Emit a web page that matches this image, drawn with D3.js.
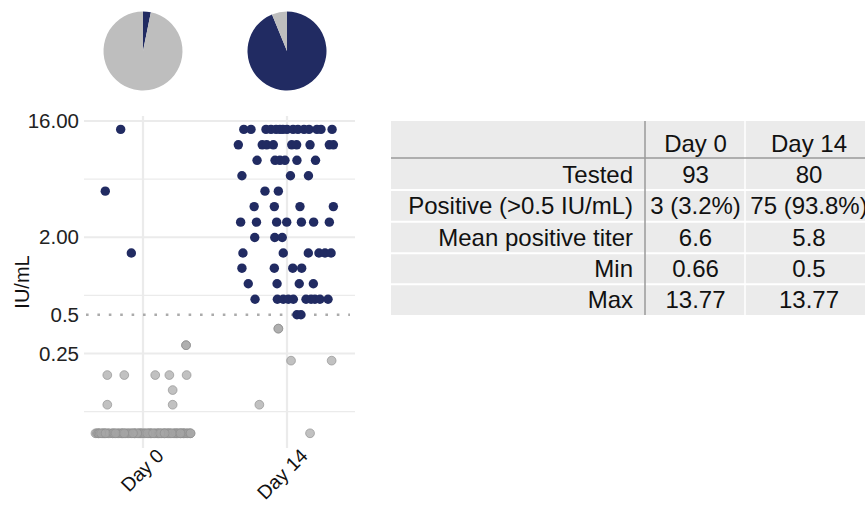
<!DOCTYPE html>
<html>
<head>
<meta charset="utf-8">
<script src="https://cdn.jsdelivr.net/npm/d3@7"></script>
<style>
  body { margin: 0; background: #fff; }
  svg { display: block; font-family: "Liberation Sans", Arial, sans-serif; }
</style>
</head>
<body>
<div id="chart"></div>
<script>
const days = ['Day 0', 'Day 14'];
const positivePct = [3.2, 93.8];
const yTicks = [0.25, 0.5, 2, 16];
const yTickLabels = ['0.25', '0.5', '2.00', '16.00'];
const majorGrid = [0.25, 2, 16];
const cutoff = 0.5;

// [jitter, titer] ; jitter in units of the gap between days
const day0Positive = [[-0.155, 13.77], [-0.262, 4.56], [-0.081, 1.51]];
const day0Negative = [
  [0.299, 0.29], [0.299, 0.29],
  [-0.248, 0.17], [-0.13, 0.17], [0.085, 0.17], [0.183, 0.17], [0.303, 0.17],
  [0.206, 0.13], [-0.248, 0.1], [0.206, 0.1],
];
// below detection limit, plotted at 0.06
const day0Floor = [
  -0.33, -0.32, -0.31, -0.31, -0.3, -0.28, -0.27, -0.27, -0.25, -0.24,
  -0.23, -0.21, -0.21, -0.2, -0.18, -0.17, -0.16, -0.15, -0.14, -0.14,
  -0.12, -0.11, -0.1, -0.09, -0.08, -0.06, -0.06, -0.05, -0.03, -0.02,
  -0.02, -0.01, 0, 0.01, 0.02, 0.04, 0.05, 0.05, 0.06, 0.08,
  0.09, 0.1, 0.11, 0.11, 0.13, 0.14, 0.15, 0.16, 0.17, 0.18,
  0.18, 0.19, 0.21, 0.22, 0.23, 0.23, 0.24, 0.25, 0.26, 0.27,
  0.28, 0.28, 0.29, 0.3, 0.31, 0.32, 0.33, 0.33, -0.29, -0.19,
  -0.13, -0.04, 0.03, 0.07, 0.12, 0.2, 0.26, -0.26, -0.07, 0.15,
];
const floorTiter = 0.06;

// titer level -> jitters
const day14Positive = [
  [13.77, [-0.3, -0.25, -0.146, -0.111, -0.076, -0.049, -0.028, 0, 0.042, 0.076, 0.118, 0.153, 0.208, 0.236, 0.313]],
  [10.45, [-0.338, -0.172, -0.141, -0.095, 0.033, 0.067, 0.16, 0.294, 0.322]],
  [7.92, [-0.208, -0.083, -0.049, -0.014, 0.069, 0.198]],
  [6.01, [-0.313, 0.024, 0.149]],
  [4.56, [-0.153, -0.06]],
  [3.46, [-0.228, -0.088, 0.09, 0.322]],
  [2.62, [-0.322, -0.212, -0.072, -0.002, 0.1, 0.185, 0.294]],
  [1.99, [-0.224, -0.085, -0.033]],
  [1.51, [-0.306, -0.026, 0.148, 0.222, 0.264, 0.306]],
  [1.15, [-0.313, -0.088, 0.04, 0.102]],
  [0.87, [-0.269, -0.069, 0.085, 0.183]],
  [0.66, [-0.222, -0.067, -0.026, 0.009, 0.044, 0.132, 0.167, 0.194, 0.229, 0.285]],
  [0.5, [0.069, 0.097]],
];
const day14Negative = [
  [-0.06, 0.39], [-0.06, 0.39], [0.028, 0.22], [0.31, 0.22], [-0.192, 0.1], [0.16, floorTiter],
];

const rowLabels = ['Tested', 'Positive (>0.5 IU/mL)', 'Mean positive titer', 'Min', 'Max'];
const day0Stats = ['93', '3 (3.2%)', '6.6', '0.66', '13.77'];
const day14Stats = ['80', '75 (93.8%)', '5.8', '0.5', '13.77'];

const width = 865;
const height = 507;
const navy = '#212b62';
const panel = { left: 84, right: 355, top: 116, bottom: 448 };

const svg = d3.select('#chart')
  .append('svg')
  .attr('width', width)
  .attr('height', height);

const xScale = d3.scaleLinear().domain([0, 1]).range([143, 287]);
const yScale = d3.scaleLog().base(2).domain([0.25, 16]).range([353.5, 121]);

// grid
const grid = svg.append('g');
const minorGrid = d3.pairs(majorGrid).map(([a, b]) => Math.sqrt(a * b));
minorGrid.push(Math.sqrt(majorGrid[0] * majorGrid[0] / 8));

grid.selectAll('.minor')
  .data(minorGrid)
  .join('line')
  .attr('x1', panel.left).attr('x2', panel.right)
  .attr('y1', (d) => yScale(d)).attr('y2', (d) => yScale(d))
  .attr('stroke', '#ebebeb').attr('stroke-width', 1.3);

grid.selectAll('.major')
  .data(majorGrid)
  .join('line')
  .attr('x1', panel.left).attr('x2', panel.right)
  .attr('y1', (d) => yScale(d)).attr('y2', (d) => yScale(d))
  .attr('stroke', '#ebebeb').attr('stroke-width', 2.2);

grid.selectAll('.vert')
  .data([0, 1])
  .join('line')
  .attr('x1', (d) => xScale(d)).attr('x2', (d) => xScale(d))
  .attr('y1', panel.top).attr('y2', panel.bottom)
  .attr('stroke', '#ebebeb').attr('stroke-width', 2.2);

svg.append('line')
  .attr('x1', panel.left + 2).attr('x2', panel.right - 5)
  .attr('y1', yScale(cutoff)).attr('y2', yScale(cutoff))
  .attr('stroke', '#ababab')
  .attr('stroke-width', 2.6)
  .attr('stroke-dasharray', '2.6,8.8');

// axes
const gy = svg.append('g')
  .attr('transform', `translate(${panel.left},0)`)
  .call(d3.axisLeft(yScale)
    .tickValues(yTicks)
    .tickFormat((d, i) => yTickLabels[i])
    .tickSize(0)
    .tickPadding(5));
gy.select('.domain').remove();
gy.selectAll('text')
  .attr('font-size', 20.5)
  .attr('font-family', '"Liberation Sans", Arial, sans-serif')
  .attr('fill', '#222');

svg.append('g')
  .selectAll('text')
  .data(days)
  .join('text')
  .attr('transform', (d, i) => `translate(${xScale(i) + 22},457) rotate(-45)`)
  .attr('text-anchor', 'end')
  .attr('font-size', 19.5)
  .attr('fill', '#111')
  .text((d) => d);

svg.append('text')
  .attr('transform', 'translate(22,282) rotate(-90)')
  .attr('text-anchor', 'middle')
  .attr('dominant-baseline', 'central')
  .attr('font-size', 20)
  .attr('fill', '#111')
  .text('IU/mL');

// points
const grayPts = [
  ...day0Floor.map((j) => [0, j, floorTiter]),
  ...day0Negative.map(([j, v]) => [0, j, v]),
  ...day14Negative.map(([j, v]) => [1, j, v]),
];
const bluePts = [
  ...day0Positive.map(([j, v]) => [0, j, v]),
  ...day14Positive.flatMap(([v, js]) => js.map((j) => [1, j, v])),
];

svg.append('g')
  .selectAll('circle')
  .data(grayPts)
  .join('circle')
  .attr('cx', (d) => xScale(d[0] + d[1]))
  .attr('cy', (d) => yScale(d[2]))
  .attr('r', 4.4)
  .attr('fill', '#a6a6a6')
  .attr('fill-opacity', 0.7)
  .attr('stroke', '#8c8c8c')
  .attr('stroke-opacity', 0.8)
  .attr('stroke-width', 0.8);

svg.append('g')
  .selectAll('circle')
  .data(bluePts)
  .join('circle')
  .attr('cx', (d) => xScale(d[0] + d[1]))
  .attr('cy', (d) => yScale(d[2]))
  .attr('r', 4.7)
  .attr('fill', navy);

// pies
const pie = d3.pie().sort(null);
const arc = d3.arc().innerRadius(0).outerRadius(39.5);
positivePct.forEach((p, i) => {
  svg.append('g')
    .attr('transform', `translate(${xScale(i)},51)`)
    .selectAll('path')
    .data(pie([p, 100 - p]))
    .join('path')
    .attr('d', arc)
    .attr('fill', (d, k) => (k === 0 ? navy : '#bebebe'));
});

// table
const table = svg.append('g');
const colX = [391, 645, 745, 875];
const rowY = [121, 158, 190, 221.7, 253.3, 284.3, 315];
table.append('rect')
  .attr('x', colX[0]).attr('y', rowY[0])
  .attr('width', colX[3] - colX[0]).attr('height', rowY[6] - rowY[0])
  .attr('fill', '#ebebeb');

table.selectAll('.sep')
  .data(rowY.slice(2, 6))
  .join('line')
  .attr('x1', colX[0]).attr('x2', colX[3])
  .attr('y1', (d) => d).attr('y2', (d) => d)
  .attr('stroke', '#fff').attr('stroke-width', 2);

table.append('line')
  .attr('x1', colX[2]).attr('x2', colX[2])
  .attr('y1', rowY[0]).attr('y2', rowY[6])
  .attr('stroke', '#fff').attr('stroke-width', 1.5);

table.append('line')
  .attr('x1', colX[0]).attr('x2', colX[3])
  .attr('y1', rowY[1]).attr('y2', rowY[1])
  .attr('stroke', '#9a9a9a').attr('stroke-width', 1.5);

table.append('line')
  .attr('x1', colX[1]).attr('x2', colX[1])
  .attr('y1', rowY[0]).attr('y2', rowY[6])
  .attr('stroke', '#9a9a9a').attr('stroke-width', 1.5);

const cellFont = 24;
const colMid = [695.5, 809];
table.selectAll('.head')
  .data(days)
  .join('text')
  .attr('x', (d, i) => colMid[i])
  .attr('y', rowY[1] - 6)
  .attr('text-anchor', 'middle')
  .attr('font-size', cellFont)
  .attr('fill', '#111')
  .text((d) => d);

const rowMid = (i) => (rowY[i + 1] + rowY[i + 2]) / 2 + 8.5;

table.selectAll('.lab')
  .data(rowLabels)
  .join('text')
  .attr('x', colX[1] - 12)
  .attr('y', (d, i) => rowMid(i))
  .attr('text-anchor', 'end')
  .attr('font-size', cellFont)
  .attr('fill', '#111')
  .text((d) => d);

[day0Stats, day14Stats].forEach((vals, c) => {
  table.append('g')
    .selectAll('text')
    .data(vals)
    .join('text')
    .attr('x', colMid[c])
    .attr('y', (d, i) => rowMid(i))
    .attr('text-anchor', 'middle')
    .attr('font-size', cellFont)
    .attr('fill', '#111')
    .text((d) => d);
});
</script>
</body>
</html>
